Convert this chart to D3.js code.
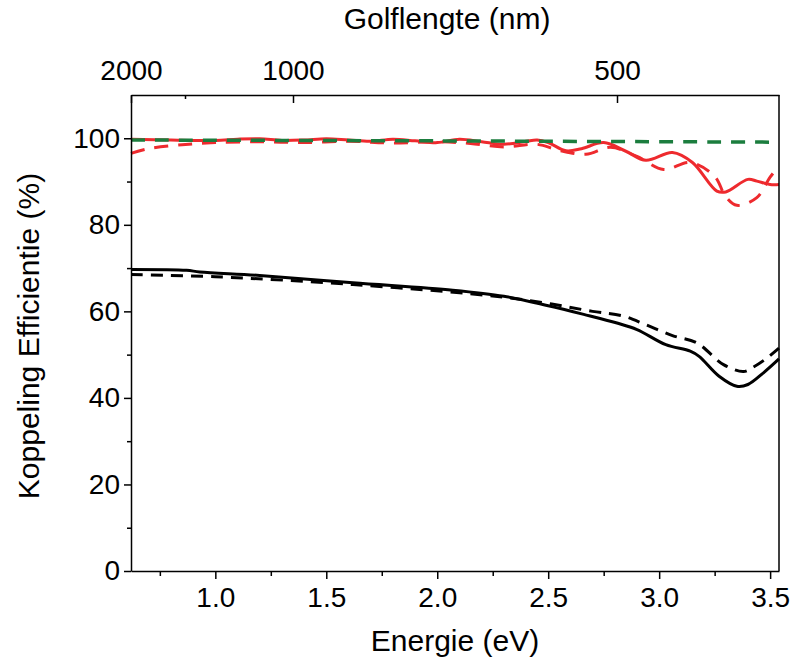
<!DOCTYPE html>
<html>
<head>
    <title>Koppeling Efficientie</title>
    <script src="https://d3js.org/d3.v7.min.js"></script>
    <style>
        body { margin: 0; background: #fff; }
        text { font-family: "Liberation Sans", Arial, sans-serif; fill: #000; }
    </style>
</head>
<body>
    <div id="chart"></div>

    <script>
        // energie (eV) en koppeling efficientie (%)
        const blackSolidE = [0.62, 0.87, 0.93, 1.2, 1.62, 2.07, 2.3, 2.5, 2.66, 2.81, 2.9, 3.03, 3.14, 3.18, 3.27, 3.35, 3.4, 3.47, 3.54];
        const blackSolidV = [69.7, 69.5, 69.1, 68.3, 66.6, 64.9, 63.5, 61.3, 59.3, 57.3, 55.8, 52.3, 50.8, 49.6, 45.0, 42.7, 43.1, 45.8, 49.0];

        const blackDashE = [0.62, 1.0, 1.62, 2.22, 2.48, 2.7, 2.84, 2.94, 3.06, 3.17, 3.29, 3.38, 3.42, 3.48, 3.54];
        const blackDashV = [68.5, 68.0, 66.2, 63.7, 62.0, 60.0, 58.9, 56.9, 54.4, 52.7, 47.7, 46.1, 47.0, 49.0, 51.5];

        const greenE = [0.62, 2.0, 3.54];
        const greenV = [99.6, 99.4, 99.1];

        const redSolidE = [0.62, 0.8, 1.0, 1.1, 1.2, 1.3, 1.4, 1.5, 1.6, 1.7, 1.8, 1.9, 2.0, 2.1, 2.2, 2.3, 2.4, 2.45, 2.5, 2.58, 2.65, 2.75, 2.85, 2.94, 3.06, 3.15, 3.26, 3.3, 3.4, 3.44, 3.5, 3.54];
        const redSolidV = [99.8, 99.6, 99.5, 99.8, 99.9, 99.5, 99.6, 99.9, 99.6, 99.3, 99.8, 99.4, 99.0, 99.8, 99.2, 98.6, 99.3, 99.6, 99.0, 97.1, 97.6, 99.0, 97.0, 94.9, 96.7, 94.4, 87.8, 87.6, 90.5, 90.1, 89.3, 89.3];

        const redDashE = [0.62, 0.7, 0.85, 1.0, 1.2, 1.4, 1.6, 1.8, 2.0, 2.15, 2.3, 2.45, 2.55, 2.67, 2.78, 2.9, 3.02, 3.14, 3.25, 3.3, 3.35, 3.44, 3.5, 3.54];
        const redDashV = [96.5, 97.6, 98.5, 99.0, 99.2, 99.0, 99.3, 98.9, 99.2, 98.8, 98.0, 98.6, 97.2, 96.3, 97.9, 95.8, 92.8, 94.4, 91.2, 86.5, 84.5, 86.3, 91.0, 93.6];

        const xTicks = [1.0, 1.5, 2.0, 2.5, 3.0, 3.5];
        const xMinor = [0.75, 1.25, 1.75, 2.25, 2.75, 3.25];
        const yTicks = [0, 20, 40, 60, 80, 100];
        const yMinor = [10, 30, 50, 70, 90];
        const topTicks = [2000, 1000, 500];
        const topMinor = [1500];

        const margin = {top: 95, right: 16, bottom: 95, left: 131};
        const width = 795 - margin.left - margin.right;
        const height = 666 - margin.top - margin.bottom;

        const svg = d3.select("#chart").append("svg")
            .attr("width", 795)
            .attr("height", 666);
        const g = svg.append("g")
            .attr("transform", "translate(" + margin.left + "," + margin.top + ")");

        const x = d3.scaleLinear().domain([0.62, 3.54]).range([0, width]);
        const y = d3.scaleLinear().domain([0, 110]).range([height, 0]);
        // golflengte-as: lineair in 1/lambda
        const xTop = d3.scaleLinear().domain([1 / 2000, 1 / 400]).range([0, width]);

        const line = d3.line()
            .x(d => x(d[0]))
            .y(d => y(d[1]))
            .curve(d3.curveCatmullRom.alpha(0.5));

        const series = [
            {e: blackDashE, v: blackDashV, color: "#000", dash: "12,8", w: 3},
            {e: blackSolidE, v: blackSolidV, color: "#000", dash: null, w: 3},
            {e: redSolidE, v: redSolidV, color: "#ee2a2e", dash: null, w: 3},
            {e: redDashE, v: redDashV, color: "#ee2a2e", dash: "14,10", w: 3},
            {e: greenE, v: greenV, color: "#1b7d3e", dash: "14,10", w: 3.5}
        ];

        series.forEach(s => {
            g.append("path")
                .datum(d3.zip(s.e, s.v))
                .attr("fill", "none")
                .attr("stroke", s.color)
                .attr("stroke-width", s.w)
                .attr("stroke-dasharray", s.dash)
                .attr("d", line);
        });

        // onderste as
        g.append("g")
            .attr("transform", "translate(0," + height + ")")
            .call(d3.axisBottom(x).tickValues(xTicks).tickFormat(d3.format(".1f"))
                .tickSize(8).tickSizeOuter(0).tickPadding(8));
        g.append("g")
            .attr("transform", "translate(0," + height + ")")
            .call(d3.axisBottom(x).tickValues(xMinor).tickFormat("").tickSize(5).tickSizeOuter(0))
            .select(".domain").remove();

        // linker as
        g.append("g")
            .call(d3.axisLeft(y).tickValues(yTicks).tickSize(7).tickSizeOuter(0).tickPadding(4));
        g.append("g")
            .call(d3.axisLeft(y).tickValues(yMinor).tickFormat("").tickSize(4).tickSizeOuter(0))
            .select(".domain").remove();

        // bovenste as (ticks naar binnen)
        g.append("g")
            .call(d3.axisTop(xTop).tickValues(topTicks.map(l => 1 / l))
                .tickFormat(d => Math.round(1 / d)).tickSize(-8).tickSizeOuter(0).tickPadding(15));
        g.append("g")
            .call(d3.axisTop(xTop).tickValues(topMinor.map(l => 1 / l))
                .tickFormat("").tickSize(-4).tickSizeOuter(0))
            .select(".domain").remove();

        // rechter as
        g.append("line")
            .attr("x1", width).attr("x2", width)
            .attr("y1", 0).attr("y2", height)
            .attr("stroke", "#000").attr("stroke-width", 1.5);

        g.selectAll(".domain, .tick line").attr("stroke", "#000").attr("stroke-width", 1.5);
        g.selectAll(".tick text")
            .style("font-family", "'Liberation Sans', Arial, sans-serif")
            .style("font-size", "28px");

        svg.append("text")
            .attr("x", margin.left + width / 2)
            .attr("y", 651)
            .attr("text-anchor", "middle")
            .style("font-size", "30px")
            .text("Energie (eV)");

        svg.append("text")
            .attr("x", margin.left + width / 2 - 8)
            .attr("y", 29)
            .attr("text-anchor", "middle")
            .style("font-size", "30px")
            .text("Golflengte (nm)");

        svg.append("text")
            .attr("transform", "translate(39," + (margin.top + height / 2 + 3) + ") rotate(-90)")
            .attr("text-anchor", "middle")
            .style("font-size", "30px")
            .text("Koppeling Efficientie (%)");
    </script>
</body>
</html>
